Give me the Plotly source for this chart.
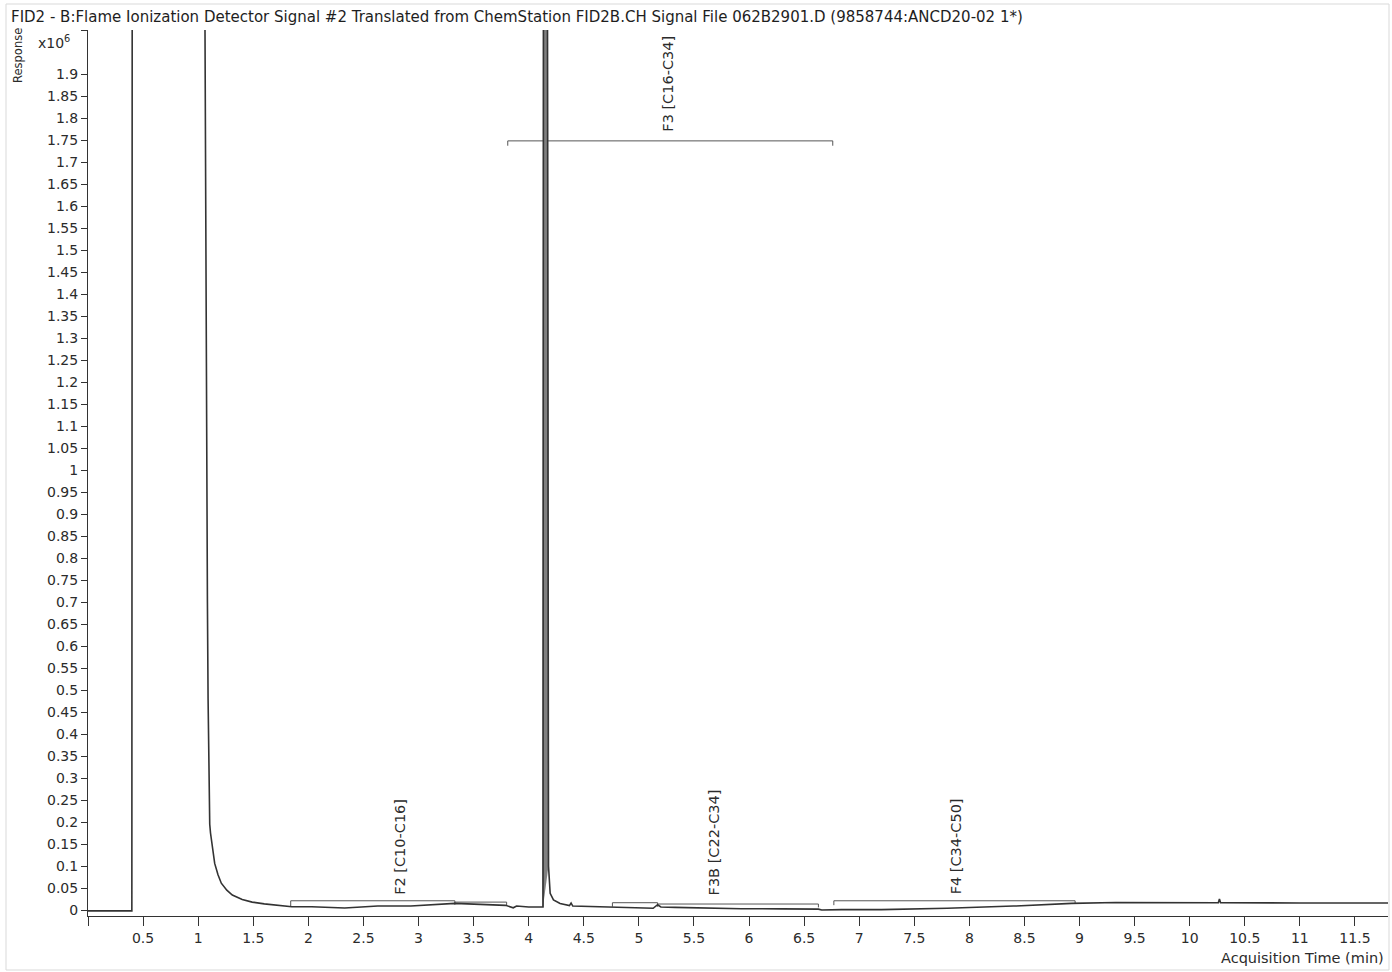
import plotly.graph_objects as go

# ---- chromatogram signal (minutes, x10^6 counts) ----
time_min = [0.0, 0.2, 0.398, 0.402, 1.055, 1.062, 1.072, 1.084, 1.09, 1.095, 1.10, 1.105,
            1.112, 1.12, 1.135, 1.15, 1.18, 1.21, 1.26, 1.31, 1.40, 1.49, 1.60, 1.73, 1.85,
            2.03, 2.33, 2.63, 2.93, 3.33, 3.53, 3.79, 3.86, 3.89, 4.0, 4.13, 4.135, 4.168,
            4.18, 4.195, 4.225, 4.285, 4.37, 4.385, 4.40, 4.6, 4.76, 4.95, 5.13, 5.17, 5.20,
            5.33, 5.6, 5.93, 6.3, 6.63, 6.66, 6.84, 7.2, 7.8, 8.4, 8.93, 9.33, 10.0, 10.26,
            10.27, 10.28, 11.0, 11.8]
response = [-0.002, -0.002, -0.002, 2.6, 2.6, 2.0, 1.2, 0.70, 0.48, 0.33, 0.23, 0.195,
            0.175, 0.159, 0.13, 0.106, 0.08, 0.061, 0.045, 0.034, 0.024, 0.018, 0.014, 0.011, 0.0075,
            0.0075, 0.0045, 0.009, 0.009, 0.015, 0.0136, 0.0106, 0.005, 0.009, 0.007, 0.007, 2.6, 2.6,
            0.10, 0.038, 0.023, 0.015, 0.010, 0.016, 0.009, 0.0075, 0.008, 0.006, 0.004, 0.012, 0.007,
            0.006, 0.004, 0.003, 0.0025, 0.002, 0.0, 0.001, 0.001, 0.004, 0.009, 0.015, 0.017, 0.0165, 0.0165,
            0.025, 0.0165, 0.016, 0.016]

# ---- integration region brackets ----
seg_start = [1.84, 3.33, 3.81, 4.76, 5.17, 6.77]
seg_end = [3.33, 3.80, 6.76, 5.17, 6.63, 8.96]
seg_level = [0.021, 0.018, 1.748, 0.0166, 0.0136, 0.021]
seg_left_bottom = [0.009, 0.012, 1.737, 0.0075, 0.008, 0.011]
seg_right_bottom = [0.014, 0.011, 1.737, 0.008, 0.006, 0.014]

# ---- region labels ----
label_text = ["F2 [C10-C16]", "F3 [C16-C34]", "F3B [C22-C34]", "F4 [C34-C50]"]
label_time = [2.83, 5.27, 5.68, 7.88]
label_value = [0.143, 1.877, 0.153, 0.145]

# ---- axes ticks ----
x_tick_vals = [0, 0.5, 1, 1.5, 2, 2.5, 3, 3.5, 4, 4.5, 5, 5.5, 6, 6.5, 7, 7.5, 8, 8.5,
               9, 9.5, 10, 10.5, 11, 11.5]
x_tick_text = ["", "0.5", "1", "1.5", "2", "2.5", "3", "3.5", "4", "4.5", "5", "5.5", "6",
               "6.5", "7", "7.5", "8", "8.5", "9", "9.5", "10", "10.5", "11", "11.5"]
y_tick_vals = [0, 0.05, 0.1, 0.15, 0.2, 0.25, 0.3, 0.35, 0.4, 0.45, 0.5, 0.55, 0.6, 0.65,
               0.7, 0.75, 0.8, 0.85, 0.9, 0.95, 1, 1.05, 1.1, 1.15, 1.2, 1.25, 1.3, 1.35,
               1.4, 1.45, 1.5, 1.55, 1.6, 1.65, 1.7, 1.75, 1.8, 1.85, 1.9, 2.0]
y_tick_text = ["0", "0.05", "0.1", "0.15", "0.2", "0.25", "0.3", "0.35", "0.4", "0.45",
               "0.5", "0.55", "0.6", "0.65", "0.7", "0.75", "0.8", "0.85", "0.9", "0.95",
               "1", "1.05", "1.1", "1.15", "1.2", "1.25", "1.3", "1.35", "1.4", "1.45",
               "1.5", "1.55", "1.6", "1.65", "1.7", "1.75", "1.8", "1.85", "1.9", ""]

title_text = ("FID2 - B:Flame Ionization Detector Signal #2 Translated from ChemStation "
              "FID2B.CH Signal File 062B2901.D (9858744:ANCD20-02 1*)")

FONT = "DejaVu Sans, sans-serif"
TXT = "#2b2b2b"
W, H = 1392, 972
ML, MR, MT, MB = 88, 4, 30, 56

fig = go.Figure()

# brackets
for s, e, lv, lb, rb in zip(seg_start, seg_end, seg_level, seg_left_bottom, seg_right_bottom):
    fig.add_trace(go.Scatter(
        x=[s, s, e, e], y=[lb, lv, lv, rb], mode="lines",
        line=dict(color="#555555", width=1), hoverinfo="skip", showlegend=False))

# main off-scale peak drawn as a thick grey band (same data points)
peak_t = [t for t in time_min if 4.13 <= t <= 4.18]
peak_v = [v for t, v in zip(time_min, response) if 4.13 <= t <= 4.18]
fig.add_trace(go.Scatter(
    x=peak_t, y=peak_v, mode="lines", fill="toself", fillcolor="#808080",
    line=dict(color="#606060", width=1), hoverinfo="skip", showlegend=False))

# signal
fig.add_trace(go.Scatter(
    x=time_min, y=response, mode="lines",
    line=dict(color="#333333", width=1.6), showlegend=False))

annotations = []
for txt, t, v in zip(label_text, label_time, label_value):
    annotations.append(dict(
        x=t, y=v, xref="x", yref="y", text=txt, textangle=-90, showarrow=False,
        font=dict(family=FONT, size=14.5, color=TXT),
        xanchor="center", yanchor="middle"))

pw = W - ML - MR
ph = H - MT - MB


def px_x(p):
    return (p - ML) / pw


def px_y(p):
    return 1 - (p - MT) / ph


annotations.append(dict(
    x=px_x(9), y=px_y(17), xref="paper", yref="paper", text=title_text,
    showarrow=False, xanchor="left", yanchor="middle",
    font=dict(family=FONT, size=15, color="#1e1e1e")))
annotations.append(dict(
    x=px_x(18), y=px_y(56), xref="paper", yref="paper", text="Response",
    textangle=-90, showarrow=False, xanchor="center", yanchor="middle",
    font=dict(family=FONT, size=11.5, color=TXT)))
annotations.append(dict(
    x=px_x(36), y=px_y(42), xref="paper", yref="paper", text="x10<sup>6</sup>",
    showarrow=False, xanchor="left", yanchor="middle",
    font=dict(family=FONT, size=14, color=TXT)))
annotations.append(dict(
    x=px_x(1386), y=px_y(958), xref="paper", yref="paper",
    text="Acquisition Time (min)", showarrow=False, xanchor="right", yanchor="middle",
    font=dict(family=FONT, size=14.5, color=TXT)))

shapes = [dict(type="rect", xref="paper", yref="paper",
               x0=px_x(6), x1=px_x(1389), y0=px_y(970), y1=px_y(4),
               line=dict(color="#d9d9d9", width=1), fillcolor="rgba(0,0,0,0)",
               layer="below")]

fig.update_layout(
    width=W, height=H,
    margin=dict(l=ML, r=MR, t=MT, b=MB),
    paper_bgcolor="white", plot_bgcolor="white",
    font=dict(family=FONT, size=14, color=TXT),
    annotations=annotations, shapes=shapes,
    xaxis=dict(range=[0, 11.8], tickmode="array", tickvals=x_tick_vals,
               ticktext=x_tick_text, ticks="outside", ticklen=9, tickwidth=1,
               tickcolor="#333333", showline=True, linecolor="#333333", linewidth=1,
               showgrid=False, zeroline=False, tickfont=dict(size=14, color=TXT)),
    yaxis=dict(range=[-0.0136, 2.0], tickmode="array", tickvals=y_tick_vals,
               ticktext=y_tick_text, ticks="outside", ticklen=6, tickwidth=1,
               tickcolor="#333333", showline=True, linecolor="#333333", linewidth=1,
               showgrid=False, zeroline=False, tickfont=dict(size=14, color=TXT)),
)

fig.write_html("out.html", config={"displayModeBar": False},
               post_script="document.body.style.margin='0';document.body.style.overflow='hidden';")
